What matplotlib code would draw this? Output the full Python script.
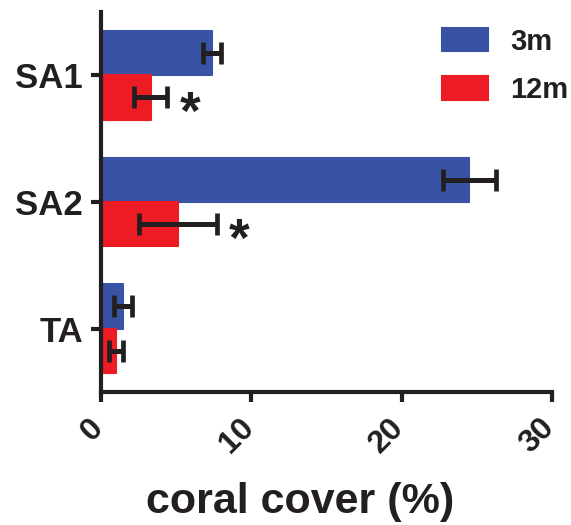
import matplotlib
matplotlib.use("Agg")
import matplotlib.pyplot as plt
from matplotlib.transforms import ScaledTranslation
import numpy as np

sites = ["SA1", "SA2", "TA"]
depths = ["3m", "12m"]
cover_3m = [7.4, 24.5, 1.45]
err_3m = [0.6, 1.75, 0.6]
cover_12m = [3.3, 5.1, 1.0]
err_12m = [1.1, 2.6, 0.45]
significant = [True, True, False]
x_ticks = [0, 10, 20, 30]

plt.rcParams["font.family"] = ["Liberation Sans", "DejaVu Sans"]
plt.rcParams["font.weight"] = "bold"

blue = "#3953A4"
red = "#ED1C24"
ink = "#231F20"

fig = plt.figure(figsize=(5.71, 5.25), dpi=100)
ax = fig.add_axes([0.1769, 0.2533, 0.79, 0.724])

y = np.arange(len(sites))
h = 0.35
ekw = dict(elinewidth=3.6, capsize=8, capthick=3.4, ecolor=ink)
ax.barh(y - h / 2, cover_3m, height=h, color=blue, edgecolor=blue,
        linewidth=1.5, joinstyle="round", xerr=err_3m, error_kw=ekw, label=depths[0])
ax.barh(y + h / 2, cover_12m, height=h, color=red, edgecolor=red,
        linewidth=1.5, joinstyle="round", xerr=err_12m, error_kw=ekw, label=depths[1])

for i, sig in enumerate(significant):
    if sig:
        ax.text(cover_12m[i] + err_12m[i] + 1.5, y[i] + h / 2 + 0.14, "*",
                fontsize=38, fontweight="bold", ha="center", va="center", color=ink)

ax.set_xlim(0, 30)
ax.set_ylim(2.5, -0.5)

for s in ["top", "right"]:
    ax.spines[s].set_visible(False)
for s in ["left", "bottom"]:
    ax.spines[s].set_linewidth(3)
    ax.spines[s].set_color(ink)
ax.tick_params(width=3, length=7, color=ink)
ax.tick_params(axis="y", pad=6)
ax.tick_params(axis="x", pad=8)

ax.set_xticks(x_ticks)
ax.set_xticklabels([str(t) for t in x_ticks], rotation=45, ha="right",
                   rotation_mode="anchor", fontsize=23, fontweight="bold", color=ink)
# labels sit a bit left of their ticks in the original
shift = ScaledTranslation(-9 / 72, 0, fig.dpi_scale_trans)
for lbl in ax.get_xticklabels():
    lbl.set_transform(lbl.get_transform() + shift)
ax.set_yticks(y)
ax.set_yticklabels(sites, fontsize=25, fontweight="bold", color=ink)
ax.set_xlabel("coral cover (%)", fontsize=31, fontweight="bold", color=ink)
ax.xaxis.set_label_coords(0.441, -0.238)

leg = ax.legend(loc="upper right", bbox_to_anchor=(1.094, 1.028), frameon=False,
                fontsize=21, handlelength=1.6, handleheight=0.87,
                labelspacing=0.7, handletextpad=0.75)
for t in leg.get_texts():
    t.set_color(ink)

fig.savefig("out.png", dpi=100)
